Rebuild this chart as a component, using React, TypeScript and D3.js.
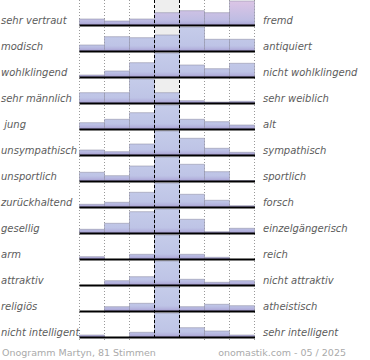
import React from 'react';
import * as d3 from 'd3';

// adjective pairs, left and right end of each scale
const leftLabels = [
  'sehr vertraut', 'modisch', 'wohlklingend', 'sehr männlich', ' jung',
  'unsympathisch', 'unsportlich', 'zurückhaltend', 'gesellig', 'arm',
  'attraktiv', 'religiös', 'nicht intelligent',
];
const rightLabels = [
  'fremd', 'antiquiert', 'nicht wohlklingend', 'sehr weiblich', 'alt',
  'sympathisch', 'sportlich', 'forsch', 'einzelgängerisch', 'reich',
  'nicht attraktiv', 'atheistisch', 'sehr intelligent',
];
const steps = [1, 2, 3, 4, 5, 6, 7];

// relative share of answers per step
const rowValues = [
  [6, 4, 6, 12.3, 14.3, 12.3, 24],
  [6, 14.3, 13.3, 16, 24, 11.7, 11.7],
  [2, 6, 14.3, 24, 12, 8.3, 13.7],
  [10.3, 10.3, 24, 10.3, 2.3, 1, 1.7],
  [6.3, 9.7, 16.3, 24, 9.7, 7.3, 4],
  [5, 3.3, 11, 24, 16.7, 6.7, 2.7],
  [8.7, 5.3, 15, 24, 16.7, 9.3, 0.5],
  [2.7, 4.7, 14.7, 24, 12.7, 6.7, 1.3],
  [3.7, 9.7, 21.3, 24, 13.7, 1.3, 4.7],
  [2.3, 0, 4.7, 24, 4.7, 1.7, 0],
  [0, 4.3, 8.3, 24, 5.7, 2.7, 4.3],
  [0, 4.3, 7.7, 24, 4.3, 6.7, 5.3],
  [2, 0, 4.7, 24, 9.3, 6, 2],
];

const footerLeft = 'Onogramm Martyn, 81 Stimmen';
const footerRight = 'onomastik.com - 05 / 2025';

const W = 370;
const H = 360;

export default function App() {
  const x = d3.scaleBand<number>().domain(steps).range([79.5, 254.5]).padding(0);
  const y = d3.scaleBand<number>().domain(d3.range(leftLabels.length)).range([-1, 337]).padding(0);
  const rowH = y.bandwidth();
  const bottom = y.range()[1] + 1;

  const font = '"DejaVu Sans", Verdana, sans-serif';
  const mid = x(4)!;

  return (
    <svg width={W} height={H} style={{ position: 'absolute', left: 0, top: 0, background: '#fff' }}>
      <defs>
        {rowValues.map((_, i) => {
          const top = y(i)!;
          const base = top + rowH;
          const pink = i === 0;
          return (
            <linearGradient key={i} id={`g${i}`} gradientUnits="userSpaceOnUse" x1={0} x2={0} y1={top} y2={base}>
              <stop offset="0" stopColor={pink ? '#dfc6e6' : '#c6cdea'} />
              <stop offset="0.8" stopColor={pink ? '#bfbde3' : '#bec4e6'} />
              <stop offset="0.93" stopColor="#b2b0dc" />
              <stop offset="1" stopColor="#a096c8" />
            </linearGradient>
          );
        })}
      </defs>

      {/* neutral column background */}
      <rect x={mid} y={0} width={x.bandwidth()} height={bottom} fill="#eeeeee" />

      {/* dotted grid */}
      {[79.5, 104.5, 129.5, 204.5, 229.5, 254.5].map((gx) => (
        <line key={gx} x1={gx} x2={gx} y1={0} y2={bottom + 2} stroke="#999" strokeDasharray="1,2" strokeWidth={1} />
      ))}

      {rowValues.map((vals, i) => {
        const top = y(i)!;
        const base = top + rowH;
        const h = d3.scaleLinear().domain([0, d3.max(vals)!]).range([0, rowH - 2]);
        return (
          <g key={i}>
            {vals.map((v, j) => {
              const bh = h(v);
              const bx = x(steps[j])!;
              if (bh <= 0) return null;
              return (
                <g key={j}>
                  <rect x={bx} y={base - bh} width={x.bandwidth()} height={bh} fill={`url(#g${i})`} />
                  <path
                    d={`M${bx},${base} V${base - bh} H${bx + x.bandwidth()} V${base}`}
                    fill="none"
                    stroke="#8e8ea4"
                    strokeOpacity={0.55}
                    strokeWidth={1}
                  />
                </g>
              );
            })}
            <line x1={79.5} x2={255} y1={base + 0.5} y2={base + 0.5} stroke="#000" strokeWidth={2} />
            <text x={1} y={base - 1} fontFamily={font} fontStyle="italic" fontSize={10} fill="#5c5c5c" style={{ whiteSpace: 'pre' }}>
              {leftLabels[i]}
            </text>
            <text x={263} y={base - 1} fontFamily={font} fontStyle="italic" fontSize={10} fill="#5c5c5c">
              {rightLabels[i]}
            </text>
          </g>
        );
      })}

      {/* dashed neutral markers */}
      {[mid, mid + x.bandwidth()].map((gx) => (
        <line key={gx} x1={gx} x2={gx} y1={0} y2={bottom + 2} stroke="#000" strokeDasharray="3,2" strokeWidth={1} />
      ))}

      <text x={2} y={356} fontFamily={font} fontSize={9.5} fill="#aaaaaa">{footerLeft}</text>
      <text x={346} y={356} textAnchor="end" fontFamily={font} fontSize={9.5} fill="#aaaaaa">{footerRight}</text>
    </svg>
  );
}
